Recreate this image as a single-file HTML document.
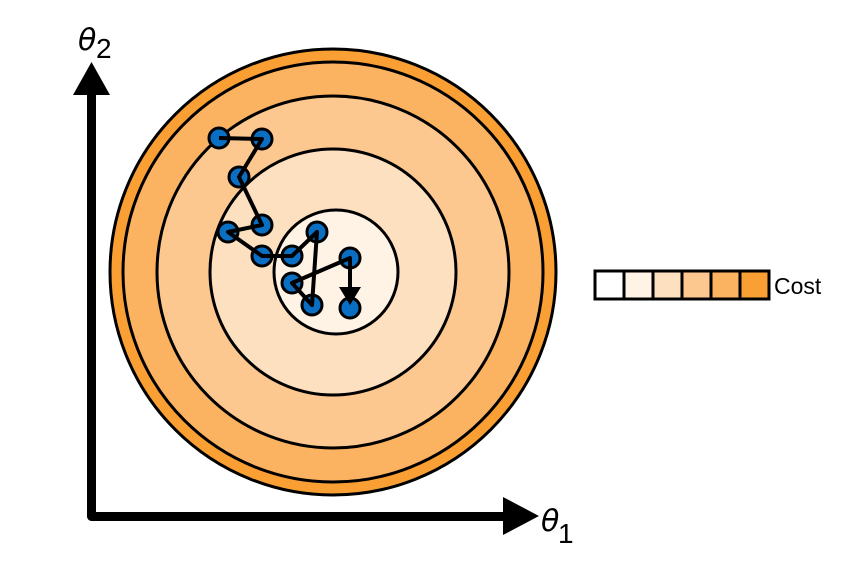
<!DOCTYPE html>
<html><head><style>
html,body{margin:0;padding:0;background:#fff;width:848px;height:562px;overflow:hidden}
</style></head><body>
<svg width="848" height="562" viewBox="0 0 848 562" xmlns="http://www.w3.org/2000/svg">
<g stroke="#000" stroke-width="3">
<circle cx="333" cy="272" r="223" fill="#f99f33"/>
<circle cx="333" cy="272" r="210" fill="#fbb261"/>
<circle cx="333" cy="272" r="176" fill="#fcc890"/>
<circle cx="333" cy="272" r="123" fill="#fde0c0"/>
<circle cx="336" cy="272" r="62" fill="#fff3e6"/>
</g>
<g fill="#0a6fc2" stroke="#000" stroke-width="3">
<circle cx="219" cy="138" r="10"/><circle cx="262" cy="139" r="10"/><circle cx="239" cy="177" r="10"/>
<circle cx="262" cy="225" r="10"/><circle cx="228" cy="232" r="10"/><circle cx="262" cy="256" r="10"/>
<circle cx="292" cy="256" r="10"/><circle cx="317" cy="232" r="10"/><circle cx="312" cy="305" r="10"/>
<circle cx="292" cy="283" r="10"/><circle cx="350" cy="258" r="10"/><circle cx="350" cy="308" r="10"/>
</g>
<polyline points="219,138 262,139 239,177 262,225 228,232 262,256 292,256 317,232 312,305 292,283 350,258 350,290" fill="none" stroke="#000" stroke-width="4" stroke-linejoin="round"/>
<polygon points="339,287 361,287 350,305" fill="#000"/>
<path d="M91.5 92 V516.5 H506" fill="none" stroke="#000" stroke-width="9" stroke-linejoin="round"/>
<polygon points="73,95 110,95 91.5,62" fill="#000"/>
<polygon points="503,497 503,535 539,516" fill="#000"/>
<text x="78" y="50" font-family="DejaVu Sans, sans-serif" font-size="30" font-style="italic">θ</text>
<text x="96" y="58" font-family="Liberation Sans, sans-serif" font-size="28">2</text>
<text x="541" y="531" font-family="DejaVu Sans, sans-serif" font-size="30" font-style="italic">θ</text>
<text x="558" y="543" font-family="Liberation Sans, sans-serif" font-size="28">1</text>
<g stroke="#000" stroke-width="3">
<rect x="595" y="271" width="174" height="28" fill="#fff"/>
<rect x="624" y="271" width="29" height="28" fill="#fff3e6"/>
<rect x="653" y="271" width="29" height="28" fill="#fde0c0"/>
<rect x="682" y="271" width="29" height="28" fill="#fcc890"/>
<rect x="711" y="271" width="29" height="28" fill="#fbb261"/>
<rect x="740" y="271" width="29" height="28" fill="#f99f33"/>
</g>
<text x="774" y="294" font-family="Liberation Sans Narrow, Liberation Sans, sans-serif" font-size="23">Cost</text>
</svg>
</body></html>
